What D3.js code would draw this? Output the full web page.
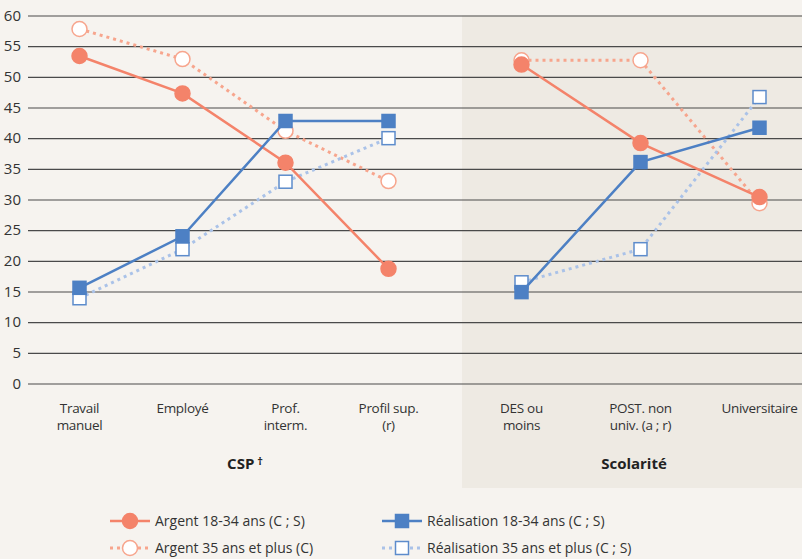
<!DOCTYPE html>
<html>
<head>
<meta charset="utf-8">
<script src="https://cdn.jsdelivr.net/npm/d3@7"></script>
<style>
  body { margin: 0; background: #f6f3ef; }
  svg { display: block; }
  text { font-family: "Liberation Sans Narrow", "Open Sans", sans-serif; fill: #333; }
</style>
</head>
<body>
<svg id="chart" width="802" height="559"></svg>
<script>
let csp = ["Travail\nmanuel", "Employé", "Prof.\ninterm.", "Profil sup.\n(r)"]
let scol = ["DES ou\nmoins", "POST. non\nuniv. (a ; r)", "Universitaire"]
let yTicks = [0, 5, 10, 15, 20, 25, 30, 35, 40, 45, 50, 55, 60]

// values: first 4 = CSP, last 3 = Scolarité
let argent1834 = [53.4, 47.3, 36.0, 18.7, 52.0, 39.2, 30.4]
let argent35 = [57.8, 52.9, 41.2, 33.0, 52.7, 52.7, 29.4]
let real1834 = [15.6, 24.0, 42.8, 42.8, 14.9, 36.1, 41.7]
let real35 = [13.9, 21.9, 32.9, 40.0, 16.5, 21.9, 46.7]

let svg = d3.select("#chart")

let y = d3.scaleLinear().domain([0, 60]).range([383.5, 15.5])
let x1 = d3.scaleBand().domain(csp).range([28, 440])
let x2 = d3.scaleBand().domain(scol).range([462, 819])
let xPos = i => i < 4 ? x1(csp[i]) + x1.bandwidth() / 2 : x2(scol[i - 4]) + x2.bandwidth() / 2

// shaded panel
svg.append("rect")
    .attr("x", 462).attr("y", y(60))
    .attr("width", 340).attr("height", 488 - y(60))
    .attr("fill", "#eeeae3")

// grid
let yAxis = d3.axisLeft(y).tickValues(yTicks).tickSize(-774).tickPadding(7)
let gy = svg.append("g").attr("transform", "translate(28,0)").call(yAxis)
gy.select(".domain").remove()
gy.selectAll("line").attr("stroke", "#4a4a4a").attr("stroke-width", 1.2)
gy.selectAll("text").style("font-size", "15px").attr("fill", "#3a3a3a")

// category labels
let cats = csp.concat(scol)
cats.forEach((c, i) => {
    let t = svg.append("text")
        .attr("x", xPos(i)).attr("y", 413)
        .attr("text-anchor", "middle")
        .style("font-size", "13.5px")
        .style("letter-spacing", "-0.3px")
    c.split("\n").forEach((line, k) => {
        t.append("tspan").attr("x", xPos(i)).attr("dy", k == 0 ? 0 : 16.5).text(line)
    })
})

svg.append("text").attr("x", 245).attr("y", 469).attr("text-anchor", "middle")
    .style("font-size", "15px").style("font-weight", "bold").style("fill", "#222")
    .text("CSP").append("tspan").attr("dy", -4).style("font-size", "11px").text(" †")
svg.append("text").attr("x", 634).attr("y", 469).attr("text-anchor", "middle")
    .style("font-size", "15px").style("font-weight", "bold").style("fill", "#222")
    .text("Scolarité")

let series = [
    { name: "Argent 35 ans et plus (C)", vals: argent35, color: "#f7a58d", dash: "3,4", width: 3, shape: "circle", fill: "#fff" },
    { name: "Réalisation 35 ans et plus (C ; S)", vals: real35, color: "#aac2e8", stroke: "#5d8ccc", dash: "3,4", width: 3, shape: "square", fill: "#fff" },
    { name: "Argent 18-34 ans (C ; S)", vals: argent1834, color: "#f4836a", dash: null, width: 2.5, shape: "circle", fill: "#f4836a" },
    { name: "Réalisation 18-34 ans (C ; S)", vals: real1834, color: "#4d80c4", dash: null, width: 2.5, shape: "square", fill: "#4d80c4" }
]

let line = d3.line().x(d => d[0]).y(d => d[1])

let drawMarker = (g, s, cx, cy) => {
    let st = s.stroke || s.color
    if (s.shape == "circle") {
        g.append("circle").attr("cx", cx).attr("cy", cy).attr("r", 7.5)
            .attr("fill", s.fill).attr("stroke", st).attr("stroke-width", 1.5)
    } else {
        g.append("rect").attr("x", cx - 6.5).attr("y", cy - 6.5).attr("width", 13).attr("height", 13)
            .attr("fill", s.fill).attr("stroke", st).attr("stroke-width", 1.5)
    }
}

series.forEach(s => {
    let g = svg.append("g")
    let p1 = s.vals.slice(0, 4).map((v, i) => [xPos(i), y(v)])
    let p2 = s.vals.slice(4).map((v, i) => [xPos(i + 4), y(v)])
    ;[p1, p2].forEach(pts => {
        g.append("path").attr("d", line(pts)).attr("fill", "none")
            .attr("stroke", s.color).attr("stroke-width", s.width)
            .attr("stroke-dasharray", s.dash)
    })
    p1.concat(p2).forEach(p => drawMarker(g, s, p[0], p[1]))
})

// legend
let legendPos = [
    [2, 110, 521], [3, 382, 521], [0, 110, 548], [1, 382, 548]
]
legendPos.forEach(([i, lx, ly]) => {
    let s = series[i]
    let g = svg.append("g")
    g.append("line").attr("x1", lx).attr("x2", lx + 40).attr("y1", ly).attr("y2", ly)
        .attr("stroke", s.color).attr("stroke-width", s.width).attr("stroke-dasharray", s.dash)
    drawMarker(g, s, lx + 20, ly)
    g.append("text").attr("x", lx + 45).attr("y", ly + 5).style("font-size", "14px").text(s.name)
})
</script>
</body>
</html>
